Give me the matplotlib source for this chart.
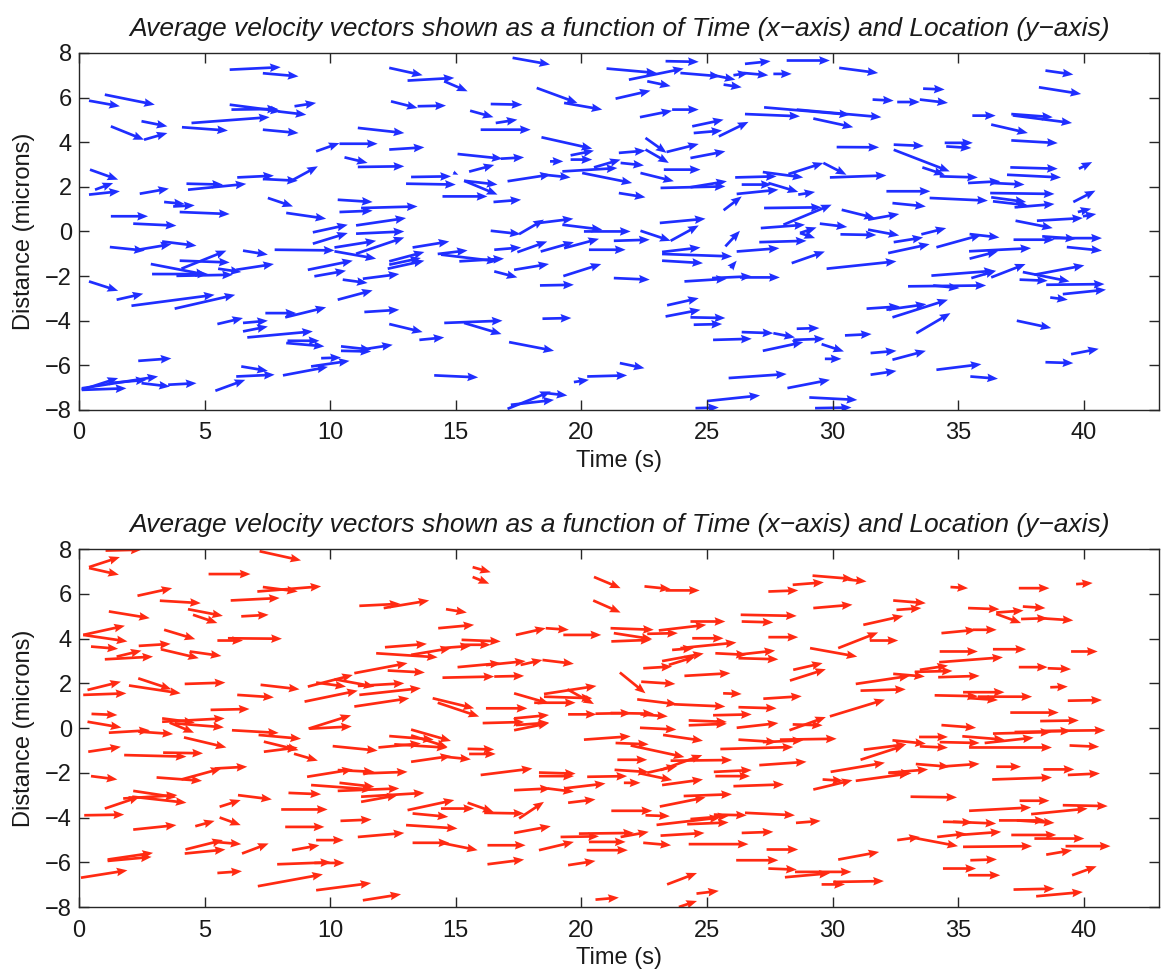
import numpy as np
import matplotlib

matplotlib.use("Agg")
import matplotlib.pyplot as plt

# each row: tail x, tail y, tip x, tip y (Time in s, Distance in microns)
blue_vectors = np.array([
    (6.0, 7.25, 8.03, 7.36), (7.32, 7.09, 8.74, 6.95), (1.03, 6.13, 3.02, 5.68),
    (0.40, 5.86, 1.63, 5.61), (6.0, 5.68, 8.05, 5.38), (6.07, 5.46, 7.92, 5.49),
    (7.92, 5.38, 9.05, 5.23), (8.58, 5.61, 9.44, 5.76), (4.48, 4.86, 7.59, 5.12),
    (2.49, 4.94, 3.52, 4.71), (1.27, 4.71, 2.59, 4.11), (2.59, 4.11, 3.52, 4.41),
    (4.10, 4.67, 5.93, 4.52), (7.32, 4.56, 8.74, 4.41), (0.44, 2.77, 1.56, 2.32),
    (0.64, 1.87, 1.36, 2.17), (0.40, 1.65, 1.63, 1.80), (2.42, 1.69, 3.58, 1.92),
    (4.28, 2.14, 5.73, 2.10), (4.34, 1.87, 6.66, 2.13), (6.30, 2.42, 7.76, 2.50),
    (7.32, 2.35, 8.71, 2.27), (3.39, 1.32, 4.21, 1.23), (3.75, 1.12, 4.61, 1.17),
    (4.01, 0.87, 6.00, 0.78), (7.52, 1.50, 8.52, 1.12), (8.25, 0.83, 9.84, 0.57),
    (1.27, 0.68, 2.75, 0.68), (2.16, 0.35, 3.88, 0.26), (1.23, -0.70, 2.62, -0.86),
    (2.36, -0.82, 3.68, -0.57), (3.31, -0.45, 4.68, -0.64), (6.53, -0.86, 7.52, -1.04),
    (7.79, -0.82, 10.17, -0.85), (4.01, -1.31, 6.00, -1.39), (2.86, -1.46, 5.07, -1.94),
    (4.08, -1.67, 5.87, -0.86), (2.91, -1.91, 5.14, -1.91), (3.88, -1.99, 6.13, -1.94),
    (5.54, -1.67, 6.46, -1.82), (6.26, -1.72, 7.76, -1.46), (0.40, -2.24, 1.56, -2.66),
    (1.50, -3.06, 2.56, -2.79), (2.09, -3.33, 5.40, -2.84), (3.81, -3.46, 6.22, -2.84),
    (5.51, -4.15, 6.53, -3.88), (6.53, -4.10, 7.52, -4.00), (6.53, -4.48, 7.52, -4.26),
    (7.42, -3.66, 8.65, -3.66), (6.70, -4.75, 9.31, -4.48), (8.25, -5.00, 9.77, -5.15),
    (8.30, -4.90, 9.57, -4.90), (2.36, -5.80, 3.68, -5.69), (6.46, -6.05, 7.52, -6.25),
    (6.26, -6.50, 7.79, -6.42), (8.12, -6.45, 9.91, -6.07), (0.11, -7.10, 1.56, -6.57),
    (0.11, -7.10, 1.89, -7.03), (0.11, -7.03, 3.15, -6.50), (1.17, -6.80, 2.69, -6.65),
    (2.49, -6.80, 3.62, -6.95), (3.55, -6.87, 4.68, -6.80), (5.43, -7.14, 6.62, -6.65),
    (8.50, 2.30, 9.51, 2.92), (8.21, -3.85, 9.84, -3.40), (9.24, -6.05, 10.77, -5.80),
    (12.35, 7.33, 13.68, 7.00), (13.08, 6.76, 14.94, 6.88), (14.54, 6.73, 15.47, 6.28),
    (12.42, 5.83, 13.48, 5.53), (13.48, 5.61, 14.61, 5.64), (15.57, 5.41, 16.50, 5.12),
    (16.39, 5.71, 17.65, 5.68), (16.59, 4.86, 17.45, 5.01), (15.99, 4.56, 17.98, 4.56),
    (11.10, 4.64, 12.95, 4.41), (9.44, 3.59, 10.37, 3.96), (10.37, 3.93, 11.89, 3.93),
    (12.35, 3.67, 13.75, 3.77), (10.57, 3.32, 11.49, 3.07), (11.10, 2.89, 12.95, 2.92),
    (15.07, 3.47, 16.86, 3.26), (16.79, 3.26, 17.72, 3.32), (15.53, 2.68, 16.53, 2.98),
    (13.22, 2.44, 14.81, 2.47), (14.90, 2.64, 15.10, 2.54), (13.02, 2.14, 15.00, 2.10),
    (15.33, 2.27, 16.66, 2.10), (15.33, 2.27, 16.66, 1.65), (17.06, 2.25, 18.78, 2.55),
    (14.47, 1.57, 16.26, 1.57), (16.50, 1.32, 17.60, 1.42), (10.30, 1.42, 11.69, 1.32),
    (10.37, 0.87, 11.69, 0.93), (11.23, 1.05, 13.48, 1.12), (9.31, -0.04, 10.70, 0.30),
    (9.31, -0.55, 10.70, -0.07), (11.03, 0.27, 13.02, 0.60), (11.03, -0.10, 12.95, 0.00),
    (10.17, -0.72, 11.83, -0.42), (10.17, -0.89, 11.83, -1.22), (11.03, -1.00, 12.95, -0.27),
    (13.28, -0.72, 14.74, -0.45), (12.35, -1.34, 13.75, -0.92), (12.29, -1.67, 13.75, -1.31),
    (12.35, -1.49, 13.61, -1.19), (14.28, -1.01, 15.47, -0.85), (14.41, -1.04, 16.66, -1.34),
    (15.14, -1.34, 16.92, -1.22), (16.53, -0.82, 17.60, -0.72), (16.53, -1.79, 17.45, -2.06),
    (9.11, -1.72, 10.90, -1.31), (9.37, -2.01, 10.63, -1.76), (10.50, -2.16, 11.49, -2.31),
    (11.30, -2.12, 12.75, -1.91), (10.30, -3.06, 11.69, -2.64), (11.36, -3.61, 12.75, -3.51),
    (12.35, -4.15, 13.68, -4.51), (13.55, -4.86, 14.54, -4.75), (14.54, -4.10, 16.86, -4.00),
    (15.33, -4.10, 16.82, -4.60), (17.12, -4.96, 18.91, -5.35), (10.43, -5.15, 11.63, -5.30),
    (10.43, -5.35, 11.63, -5.38), (11.23, -5.30, 12.49, -5.08), (9.64, -5.68, 10.43, -5.65),
    (14.14, -6.45, 15.89, -6.54), (17.06, -7.95, 18.78, -7.17), (17.19, -7.77, 18.91, -7.55),
    (18.64, -7.25, 19.44, -7.35), (17.26, 7.78, 18.75, 7.48), (21.00, 7.30, 23.00, 7.10),
    (21.89, 6.80, 24.07, 7.30), (22.62, 6.73, 23.55, 6.51), (23.35, 7.63, 24.67, 7.60),
    (23.94, 7.10, 25.53, 6.95), (25.13, 7.03, 26.13, 6.80), (25.66, 6.58, 26.38, 6.46),
    (18.22, 6.43, 19.84, 5.76), (19.31, 5.76, 20.83, 5.46), (21.36, 5.95, 22.75, 6.31),
    (22.33, 5.12, 23.61, 5.41), (23.61, 5.46, 24.67, 5.46), (24.41, 4.71, 25.66, 5.01),
    (24.47, 4.41, 25.60, 4.52), (25.47, 4.26, 26.65, 4.91), (18.41, 4.22, 20.43, 3.71),
    (19.57, 3.41, 20.50, 3.62), (19.57, 3.22, 20.43, 3.22), (18.75, 3.14, 19.28, 3.14),
    (18.51, 2.54, 19.57, 2.42), (19.24, 2.69, 21.43, 2.84), (20.03, 2.62, 22.02, 2.17),
    (20.50, 2.87, 21.56, 3.22), (21.49, 3.52, 22.55, 3.62), (21.56, 3.07, 22.49, 2.96),
    (22.55, 4.19, 23.39, 3.52), (22.55, 3.67, 23.48, 3.07), (23.39, 3.56, 24.67, 3.92),
    (24.34, 3.29, 25.73, 3.59), (23.28, 2.77, 24.74, 2.77), (22.35, 2.62, 23.68, 2.25),
    (23.15, 1.95, 25.73, 2.02), (24.34, 1.98, 25.79, 2.25), (21.49, 1.72, 22.55, 1.53),
    (25.66, 0.95, 26.38, 1.57), (16.39, 0.03, 17.58, -0.12), (17.52, -0.12, 18.51, 0.53),
    (18.31, 0.38, 19.68, 0.57), (19.24, 0.30, 20.83, 0.08), (20.10, 0.00, 21.96, 0.00),
    (22.35, 0.03, 23.55, -0.42), (23.55, -0.42, 24.67, 0.27), (23.12, 0.38, 24.94, 0.57),
    (21.29, -0.42, 22.72, -0.37), (17.45, -0.93, 18.64, -0.45), (18.38, -0.90, 19.70, -0.48),
    (19.31, -0.75, 20.70, -0.33), (20.30, -0.82, 21.76, -0.82), (17.32, -1.72, 18.71, -1.46),
    (19.28, -2.00, 20.79, -1.46), (18.35, -2.42, 19.70, -2.39), (21.29, -2.09, 22.72, -2.16),
    (23.21, -0.92, 24.74, -0.72), (23.21, -1.01, 26.00, -1.12), (23.21, -1.31, 24.84, -1.42),
    (24.10, -2.24, 25.79, -2.12), (25.20, -2.09, 26.78, -2.01), (26.31, -2.06, 27.90, -2.06),
    (25.73, -0.67, 26.31, 0.03), (25.93, -1.64, 26.18, -1.31), (23.41, -3.31, 24.67, -2.99),
    (23.35, -3.81, 24.74, -3.51), (24.34, -3.85, 25.73, -3.88), (24.47, -4.18, 25.60, -4.15),
    (18.45, -3.91, 19.60, -3.88), (25.24, -4.86, 26.78, -4.81), (21.53, -5.90, 22.51, -6.13),
    (19.70, -6.75, 20.30, -6.65), (20.23, -6.50, 21.82, -6.45), (25.86, -6.57, 28.17, -6.39),
    (24.54, -7.92, 25.47, -7.89), (25.00, -7.60, 27.11, -7.35), (26.51, 7.51, 27.53, 7.63),
    (28.17, 7.66, 29.89, 7.66), (30.26, 7.33, 31.81, 7.10), (26.05, 7.00, 26.65, 7.10),
    (26.45, 7.10, 27.44, 7.00), (27.64, 7.06, 28.37, 7.06), (33.60, 6.40, 34.46, 6.36),
    (31.59, 5.91, 32.43, 5.86), (32.57, 5.80, 33.47, 5.80), (33.47, 5.91, 34.59, 5.76),
    (27.27, 5.56, 30.69, 5.23), (26.51, 5.26, 28.70, 5.16), (28.57, 5.46, 31.94, 5.12),
    (29.23, 5.06, 30.82, 4.67), (30.16, 3.78, 31.85, 3.77), (32.43, 3.89, 33.63, 3.83),
    (32.43, 3.66, 34.66, 2.69), (33.57, 2.87, 34.46, 2.54), (34.46, 3.97, 35.58, 3.97),
    (34.52, 3.81, 35.52, 3.74), (26.12, 2.42, 27.77, 2.47), (27.22, 2.66, 28.83, 2.42),
    (28.24, 2.57, 29.63, 3.07), (29.63, 3.07, 30.55, 2.54), (29.89, 2.42, 32.14, 2.51),
    (34.26, 2.47, 35.78, 2.42), (26.38, 2.10, 27.57, 2.10), (26.18, 1.68, 27.84, 1.87),
    (27.44, 2.17, 28.63, 1.77), (28.63, 1.65, 29.30, 1.77), (32.14, 1.80, 33.89, 1.80),
    (33.86, 1.50, 36.18, 1.38), (27.27, 1.05, 29.56, 1.08), (28.04, 0.30, 29.96, 1.20),
    (30.36, 0.97, 31.68, 0.60), (31.41, 0.53, 32.65, 0.78), (32.38, 1.27, 33.71, 1.12),
    (27.14, 0.15, 28.90, 0.30), (28.70, -0.07, 29.36, 0.18), (28.70, -0.07, 29.30, -0.30),
    (29.49, 0.35, 30.58, 0.20), (30.31, -0.13, 31.74, -0.16), (31.41, 0.08, 32.65, -0.18),
    (27.08, -0.48, 28.96, -0.42), (26.18, -0.90, 27.88, -0.75), (28.37, -1.42, 29.69, -0.90),
    (29.76, -1.67, 32.54, -1.34), (32.21, -0.97, 33.86, -0.57), (32.43, -0.48, 33.60, -0.27),
    (33.53, -0.13, 34.52, 0.15), (34.13, -0.71, 35.92, -0.15), (33.93, -1.98, 36.45, -1.76),
    (33.00, -2.46, 36.11, -2.42), (34.00, -2.42, 35.05, -2.54), (31.35, -3.46, 32.67, -3.36),
    (32.14, -3.51, 33.73, -3.26), (32.38, -3.85, 34.59, -3.06), (33.33, -4.56, 34.69, -3.66),
    (26.38, -4.51, 27.64, -4.56), (27.64, -4.56, 28.50, -4.75), (28.57, -4.36, 29.47, -4.33),
    (27.22, -5.35, 28.83, -4.96), (28.43, -4.86, 29.69, -4.81), (29.56, -5.05, 30.45, -5.38),
    (29.69, -5.71, 30.35, -5.71), (30.49, -4.66, 31.55, -4.60), (31.51, -5.45, 32.54, -5.35),
    (32.38, -5.75, 33.71, -5.35), (31.51, -6.42, 32.54, -6.25), (28.20, -7.02, 29.89, -6.65),
    (29.07, -7.44, 30.98, -7.55), (29.30, -7.92, 30.75, -7.89), (34.13, -6.20, 35.92, -5.95),
    (38.47, 7.21, 39.58, 7.03), (38.21, 6.46, 39.89, 6.16), (35.56, 5.19, 36.49, 5.19),
    (37.11, 5.26, 38.76, 5.12), (37.17, 5.20, 39.53, 4.86), (36.31, 4.79, 37.77, 4.41),
    (37.11, 4.08, 38.96, 3.96), (39.80, 2.81, 40.33, 3.11), (37.07, 2.87, 38.96, 2.81),
    (36.94, 2.54, 39.09, 2.42), (35.39, 2.17, 36.67, 2.25), (36.38, 2.17, 37.64, 2.10),
    (36.27, 1.72, 38.83, 1.68), (39.58, 1.32, 40.46, 1.83), (36.31, 1.53, 37.70, 1.32),
    (36.38, 1.35, 37.77, 1.17), (37.24, 1.08, 38.83, 1.23), (39.76, 0.87, 40.29, 1.02),
    (39.96, 0.68, 40.49, 0.78), (37.28, 0.48, 38.76, 0.15), (38.13, 0.48, 39.96, 0.60),
    (35.45, -0.12, 36.64, -0.27), (37.20, -0.37, 38.83, -0.37), (38.34, -0.22, 39.69, -0.33),
    (38.76, -0.30, 40.72, -0.30), (39.32, -0.70, 40.72, -0.86), (35.43, -0.89, 37.90, -0.75),
    (35.45, -1.22, 36.58, -0.89), (35.52, -2.09, 36.51, -1.76), (36.31, -2.06, 37.68, -1.46),
    (37.44, -2.16, 38.56, -2.21), (37.57, -1.82, 39.43, -2.24), (38.03, -1.94, 40.02, -1.52),
    (38.50, -2.39, 40.82, -2.36), (39.16, -2.81, 40.88, -2.61), (38.66, -2.96, 39.36, -3.06),
    (37.33, -4.00, 38.70, -4.33), (39.49, -5.50, 40.59, -5.26), (38.47, -5.86, 39.58, -5.90),
    (35.48, -6.50, 36.58, -6.60),
])

red_vectors = np.array([
    (1.06, 7.93, 2.49, 7.97), (0.40, 7.19, 1.63, 7.64), (0.40, 7.15, 1.59, 6.85),
    (5.16, 6.88, 6.83, 6.88), (7.19, 7.90, 8.84, 7.49), (2.33, 5.91, 3.71, 6.25),
    (3.22, 5.69, 4.85, 5.58), (1.19, 5.21, 2.82, 4.91), (4.34, 5.31, 5.73, 5.01),
    (4.54, 5.06, 5.51, 4.69), (6.04, 5.70, 7.99, 5.81), (6.46, 4.99, 7.55, 5.06),
    (7.32, 6.30, 8.71, 6.10), (7.10, 6.10, 9.64, 6.33), (0.17, 4.16, 1.83, 4.57),
    (0.17, 4.16, 1.93, 3.87), (0.48, 3.64, 1.56, 3.54), (1.03, 3.07, 2.95, 3.19),
    (1.50, 3.19, 2.49, 3.46), (2.38, 3.67, 3.65, 3.76), (3.39, 4.39, 4.63, 3.97),
    (3.26, 3.52, 4.77, 3.12), (4.41, 3.42, 5.67, 3.22), (5.51, 3.91, 6.53, 3.91),
    (5.93, 4.01, 8.08, 3.99), (0.34, 1.70, 1.67, 2.07), (0.17, 1.48, 1.89, 1.55),
    (2.36, 2.22, 3.68, 1.73), (1.99, 1.90, 4.05, 1.55), (4.21, 1.97, 5.83, 2.03),
    (7.23, 1.93, 8.78, 1.73), (6.30, 1.48, 7.76, 1.37), (5.24, 0.81, 6.79, 0.85),
    (0.50, 0.63, 1.53, 0.58), (0.34, 0.28, 1.69, 0.02), (1.19, -0.21, 2.82, -0.10),
    (2.36, -0.16, 3.75, -0.27), (3.31, 0.43, 4.61, 0.24), (3.31, 0.28, 5.80, 0.43),
    (3.61, 0.24, 4.58, -0.21), (3.81, 0.21, 5.77, 0.03), (6.09, -0.10, 7.95, -0.22),
    (7.15, -0.31, 8.84, -0.48), (4.18, -0.42, 5.87, -0.87), (0.37, -1.06, 1.67, -0.84),
    (1.80, -1.21, 4.28, -1.28), (3.35, -1.10, 4.94, -1.13), (7.36, -0.61, 8.74, -0.99),
    (7.36, -1.06, 8.71, -0.87), (8.56, -1.15, 9.51, -1.46), (0.48, -2.15, 1.53, -2.30),
    (3.09, -2.21, 4.90, -2.36), (4.08, -2.30, 5.67, -1.81), (5.40, -1.81, 6.70, -1.73),
    (1.03, -3.60, 2.42, -3.07), (1.76, -3.15, 3.92, -3.00), (2.16, -2.81, 3.88, -3.10),
    (2.12, -3.07, 4.28, -3.34), (6.33, -3.00, 7.68, -3.19), (8.34, -2.90, 9.64, -2.96),
    (0.21, -3.90, 1.80, -3.87), (5.60, -3.52, 6.44, -3.22), (8.05, -3.64, 9.90, -3.64),
    (2.16, -4.54, 3.88, -4.34), (4.63, -4.39, 5.40, -4.15), (5.60, -4.00, 6.44, -4.34),
    (8.21, -4.42, 9.77, -4.42), (1.14, -5.88, 2.95, -5.58), (1.14, -5.94, 2.89, -5.76),
    (4.24, -5.43, 5.73, -5.01), (4.21, -5.61, 5.83, -5.43), (5.40, -5.09, 6.46, -5.19),
    (6.49, -5.61, 7.55, -5.16), (8.48, -5.46, 9.57, -5.24), (0.08, -6.69, 1.93, -6.36),
    (5.51, -6.48, 6.49, -6.40), (7.89, -6.09, 10.04, -6.00), (9.37, -6.03, 10.57, -6.03),
    (7.12, -7.07, 9.71, -6.54), (15.67, 7.19, 16.39, 6.96), (15.67, 6.75, 16.33, 6.45),
    (11.16, 5.46, 12.79, 5.55), (12.13, 5.36, 13.94, 5.70), (14.61, 5.31, 15.44, 5.16),
    (14.30, 4.46, 15.73, 4.61), (15.23, 3.94, 16.79, 3.87), (12.18, 3.61, 13.85, 3.76),
    (11.83, 3.34, 14.28, 3.16), (13.22, 3.27, 14.81, 3.57), (14.41, 3.57, 15.60, 3.67),
    (15.20, 3.72, 16.39, 3.72), (15.07, 2.72, 16.79, 2.90), (16.20, 2.81, 17.78, 2.99),
    (10.96, 2.45, 13.08, 2.90), (12.29, 2.57, 13.77, 2.48), (14.47, 2.25, 16.53, 2.30),
    (16.53, 2.30, 17.72, 2.33), (9.11, 1.85, 10.90, 2.37), (9.44, 2.03, 10.63, 1.85),
    (10.17, 2.18, 11.76, 1.85), (11.10, 1.88, 12.95, 2.00), (8.98, 1.18, 11.10, 1.67),
    (11.16, 1.48, 13.61, 1.78), (10.96, 0.96, 13.15, 1.33), (14.08, 1.33, 15.73, 0.88),
    (14.28, 1.13, 15.93, 0.51), (16.20, 0.88, 17.85, 0.88), (16.07, 0.22, 17.72, 0.27),
    (9.14, -0.03, 10.83, 0.57), (9.18, -0.03, 10.86, 0.07), (10.10, -0.81, 11.89, -1.01),
    (11.92, -0.87, 13.61, -0.69), (12.35, -0.36, 14.12, -0.52), (13.22, -0.07, 14.81, -0.58),
    (13.22, -0.33, 14.67, -0.85), (12.55, -0.73, 14.67, -0.88), (13.22, -1.51, 14.81, -1.25),
    (14.54, -1.28, 15.60, -1.40), (15.47, -0.93, 16.53, -0.96), (15.53, -1.16, 16.59, -1.16),
    (15.99, -2.10, 18.05, -1.81), (9.08, -2.18, 10.90, -1.85), (10.30, -1.88, 11.76, -1.96),
    (11.30, -2.03, 13.08, -1.96), (9.24, -2.55, 11.69, -2.75), (10.37, -2.45, 11.76, -2.63),
    (10.30, -2.81, 12.75, -2.70), (11.23, -3.30, 12.69, -3.00), (11.23, -3.07, 13.75, -2.90),
    (13.08, -3.67, 14.94, -3.22), (13.28, -3.82, 14.70, -3.97), (14.41, -3.60, 15.73, -3.60),
    (15.47, -3.34, 16.50, -3.75), (16.13, -3.79, 17.72, -3.82), (10.41, -4.15, 11.65, -4.09),
    (13.02, -4.34, 15.07, -4.49), (11.10, -4.87, 12.95, -4.69), (13.28, -5.13, 14.74, -5.13),
    (14.41, -5.13, 15.87, -5.46), (9.44, -5.01, 10.54, -5.01), (16.26, -5.24, 17.78, -5.24),
    (16.26, -6.09, 17.72, -5.88), (9.44, -7.25, 11.63, -6.93), (11.30, -7.70, 12.82, -7.43),
    (20.50, 6.75, 21.56, 6.25), (22.51, 6.33, 23.55, 6.21), (23.35, 6.15, 24.71, 6.15),
    (20.47, 5.70, 21.56, 5.16), (17.39, 4.16, 18.58, 4.46), (18.58, 4.46, 19.50, 4.39),
    (19.28, 4.16, 20.79, 4.16), (21.16, 4.46, 22.88, 4.39), (21.29, 4.24, 22.82, 3.97),
    (21.19, 3.87, 22.78, 3.94), (22.62, 4.21, 23.84, 4.24), (23.08, 4.36, 24.97, 4.61),
    (24.34, 4.76, 25.73, 4.76), (24.41, 4.01, 25.66, 4.01), (23.61, 3.49, 24.47, 3.57),
    (23.94, 3.57, 26.17, 3.82), (25.33, 3.34, 26.58, 3.27), (17.58, 2.82, 18.45, 3.04),
    (18.45, 3.04, 19.70, 2.87), (23.21, 2.99, 24.87, 3.33), (22.46, 2.67, 23.61, 2.75),
    (23.48, 2.82, 24.54, 3.19), (24.10, 2.33, 25.93, 2.45), (21.53, 2.48, 22.55, 1.55),
    (22.38, 2.07, 23.74, 1.97), (17.32, 1.55, 18.71, 1.10), (18.51, 1.52, 20.60, 1.88),
    (18.51, 1.40, 20.43, 1.33), (19.44, 1.73, 20.50, 1.07), (18.12, 1.13, 19.77, 1.13),
    (22.22, 1.28, 23.81, 1.06), (23.68, 1.06, 25.73, 0.96), (25.64, 1.55, 26.38, 1.52),
    (17.32, 0.43, 18.71, 0.58), (17.39, 0.13, 18.71, 0.24), (17.32, -0.10, 18.71, 0.22),
    (19.47, 0.61, 20.60, 0.61), (20.56, 0.64, 21.98, 0.67), (21.16, 0.67, 22.88, 0.64),
    (22.35, 0.61, 23.44, 0.52), (22.33, 0.01, 23.78, -0.07), (24.27, 0.34, 25.79, 0.27),
    (24.27, 0.12, 25.79, 0.19), (25.24, 0.57, 26.78, 0.61), (20.10, -0.52, 21.96, -0.37),
    (21.36, -0.67, 22.68, -0.73), (21.96, -0.78, 24.10, -1.30), (23.25, -0.31, 24.84, -0.57),
    (25.53, -0.94, 28.43, -0.85), (21.43, -1.42, 22.62, -1.42), (21.32, -1.87, 22.68, -1.97),
    (22.35, -2.03, 23.61, -2.33), (22.62, -2.00, 23.81, -1.70), (23.15, -1.88, 24.81, -1.21),
    (23.55, -1.46, 26.00, -1.43), (23.21, -2.55, 24.84, -2.30), (25.27, -1.96, 26.78, -1.88),
    (25.33, -2.15, 26.71, -2.15), (18.31, -1.99, 19.77, -2.04), (18.31, -2.15, 19.70, -2.15),
    (20.23, -2.18, 21.82, -2.15), (21.69, -2.45, 22.35, -2.45), (17.32, -2.78, 18.78, -2.70),
    (18.64, -2.70, 19.70, -2.85), (19.31, -2.70, 20.96, -2.48), (19.47, -3.34, 20.56, -3.19),
    (24.07, -3.04, 25.99, -2.96), (23.12, -3.51, 24.94, -3.10), (17.52, -4.04, 18.51, -3.30),
    (21.19, -3.70, 22.82, -3.70), (22.55, -3.90, 23.52, -3.94), (22.99, -4.33, 25.53, -4.00),
    (24.21, -4.30, 25.86, -4.22), (24.34, -4.07, 25.86, -3.93), (25.27, -3.87, 26.58, -3.90),
    (17.32, -4.69, 18.78, -4.39), (18.31, -5.46, 19.70, -5.09), (19.17, -4.87, 20.70, -4.84),
    (19.90, -4.72, 22.09, -4.69), (20.30, -5.09, 21.76, -5.09), (20.21, -5.46, 21.85, -5.46),
    (21.56, -4.87, 22.68, -4.64), (22.46, -5.13, 23.57, -5.24), (23.15, -4.81, 24.90, -4.69),
    (24.27, -5.19, 26.65, -5.19), (19.47, -6.13, 20.56, -5.94), (23.41, -6.99, 24.60, -6.48),
    (24.58, -7.40, 25.47, -7.28), (20.56, -7.67, 21.49, -7.58), (23.88, -8.00, 24.60, -7.73),
    (29.20, 6.81, 30.82, 6.66), (30.62, 6.63, 31.35, 6.55), (28.41, 6.40, 29.65, 6.51),
    (27.44, 6.10, 28.63, 6.15), (34.69, 6.30, 35.39, 6.25), (29.23, 5.36, 30.79, 5.51),
    (32.41, 5.70, 33.71, 5.58), (32.54, 5.28, 33.53, 5.36), (31.22, 4.61, 32.81, 5.01),
    (26.34, 5.06, 28.57, 5.01), (26.38, 4.76, 27.64, 4.72), (27.44, 4.06, 28.63, 4.06),
    (30.22, 3.57, 31.81, 4.27), (31.48, 3.91, 32.61, 3.91), (29.10, 3.57, 30.98, 3.19),
    (34.33, 4.24, 35.71, 4.39), (26.18, 3.27, 27.71, 3.46), (26.25, 3.12, 27.84, 3.07),
    (28.43, 2.60, 29.60, 2.90), (28.30, 2.12, 29.73, 2.63), (34.26, 3.42, 35.78, 3.42),
    (34.24, 2.94, 36.78, 3.16), (30.92, 1.97, 33.07, 2.33), (32.41, 2.42, 33.67, 2.30),
    (33.27, 2.51, 34.77, 2.55), (34.20, 2.27, 35.85, 2.33), (33.47, 2.60, 34.59, 2.79),
    (31.11, 1.67, 32.91, 1.73), (27.24, 1.31, 28.77, 1.42), (29.89, 0.52, 32.08, 1.27),
    (34.06, 1.46, 35.78, 1.42), (26.25, 0.93, 27.77, 0.88), (26.18, 0.01, 27.84, 0.22),
    (28.28, -0.10, 29.73, 0.49), (28.41, 0.16, 29.60, 0.12), (26.25, -0.52, 27.77, -0.63),
    (27.22, -0.63, 28.83, -0.55), (27.90, -0.52, 30.16, -0.48), (31.24, -0.97, 32.94, -0.73),
    (31.11, -1.42, 32.87, -0.78), (32.38, -0.55, 33.71, -0.70), (33.44, -0.40, 34.59, -0.40),
    (33.47, -0.82, 34.59, -0.88), (34.33, 0.13, 35.71, 0.01), (34.26, -0.63, 35.85, -0.67),
    (27.08, -1.66, 28.96, -1.51), (29.92, -1.96, 32.08, -1.55), (32.21, -2.00, 33.14, -2.03),
    (32.25, -2.00, 33.80, -1.85), (33.31, -1.61, 34.66, -1.73), (34.26, -1.73, 35.85, -1.60),
    (26.05, -2.60, 28.06, -2.52), (29.23, -2.75, 30.79, -2.33), (29.60, -2.30, 30.42, -2.36),
    (30.92, -2.36, 33.07, -2.03), (33.10, -3.07, 34.95, -3.10), (26.51, -3.79, 28.50, -3.90),
    (28.54, -4.24, 29.52, -4.15), (26.38, -4.69, 27.64, -4.64), (27.37, -5.43, 28.63, -5.43),
    (26.16, -5.91, 27.84, -5.91), (27.44, -6.28, 28.57, -6.33), (28.10, -6.67, 29.89, -6.49),
    (28.50, -6.43, 30.75, -6.43), (29.56, -6.99, 30.49, -6.99), (30.02, -6.88, 32.04, -6.84),
    (30.22, -5.88, 31.85, -5.54), (32.57, -5.01, 33.47, -4.87), (33.20, -4.90, 34.99, -5.28),
    (34.16, -4.87, 35.32, -4.72), (34.39, -4.19, 35.58, -4.22), (34.39, -6.28, 35.71, -6.28),
    (37.41, 6.25, 38.63, 6.25), (39.69, 6.43, 40.35, 6.48), (35.39, 5.36, 36.64, 5.31),
    (36.51, 5.16, 37.60, 5.25), (37.57, 5.43, 38.47, 5.36), (36.51, 5.10, 37.50, 4.69),
    (37.50, 4.87, 38.56, 4.91), (38.23, 4.91, 39.58, 4.81), (35.58, 4.39, 36.53, 4.39),
    (36.38, 3.52, 37.70, 3.52), (39.49, 3.42, 40.55, 3.42), (37.41, 2.72, 38.56, 2.72),
    (38.56, 2.67, 39.49, 2.63), (38.66, 1.82, 39.36, 1.85), (35.19, 1.60, 36.84, 1.60),
    (35.39, 1.34, 36.58, 1.25), (35.78, 1.40, 37.94, 1.40), (39.36, 1.22, 40.72, 1.25),
    (37.07, 0.69, 39.00, 0.69), (38.26, 0.31, 39.80, 0.34), (35.16, -0.37, 36.84, -0.52),
    (36.05, -0.67, 38.00, -0.43), (36.38, -0.25, 38.70, -0.18), (37.24, -0.18, 39.49, -0.13),
    (38.43, -0.13, 40.85, -0.10), (35.43, -0.87, 38.73, -0.87), (39.43, -0.78, 40.61, -0.84),
    (36.51, -1.73, 37.50, -1.73), (38.39, -1.85, 39.62, -1.85), (36.35, -2.30, 38.73, -2.21),
    (39.36, -2.10, 40.64, -2.03), (37.44, -3.25, 38.63, -3.25), (35.43, -3.70, 37.90, -3.55),
    (37.90, -3.85, 40.15, -3.60), (39.16, -3.45, 40.95, -3.49), (34.79, -4.19, 36.51, -4.27),
    (36.62, -4.13, 38.47, -4.13), (37.33, -4.13, 38.83, -4.24), (35.06, -4.78, 36.71, -4.64),
    (37.11, -4.78, 38.90, -4.78), (38.03, -4.94, 40.02, -4.94), (35.19, -5.31, 37.94, -5.28),
    (39.27, -5.28, 41.06, -5.28), (38.50, -5.66, 39.53, -5.46), (35.48, -5.91, 36.54, -5.87),
    (35.39, -6.58, 36.67, -6.58), (39.53, -6.58, 40.51, -6.18), (37.20, -7.22, 38.83, -7.18),
    (38.10, -7.52, 39.96, -7.33),
])

title_text = "Average velocity vectors shown as a function of Time (x\u2212axis) and Location (y\u2212axis)"
x_ticks = [0, 5, 10, 15, 20, 25, 30, 35, 40]
y_ticks = [-8, -6, -4, -2, 0, 2, 4, 6, 8]

plt.rcParams["font.family"] = ["Liberation Sans", "DejaVu Sans"]
axis_grey = "#262626"

fig = plt.figure(figsize=(11.61, 9.71), dpi=100)
ax_top = fig.add_axes([0.068, 0.5778, 0.9305, 0.3677])
ax_bottom = fig.add_axes([0.068, 0.0659, 0.9305, 0.3687])

for ax, vectors, colour in [(ax_top, blue_vectors, "#1f2eff"), (ax_bottom, red_vectors, "#ff2a12")]:
    x0, y0, x1, y1 = vectors.T
    ax.quiver(x0, y0, x1 - x0, y1 - y0, angles="xy", scale_units="xy", scale=1,
              color=colour, width=0.0025, headwidth=3.2, headlength=4.0,
              headaxislength=3.6)
    ax.set_xlim(0, 43)
    ax.set_ylim(-8, 8)
    ax.set_xticks(x_ticks)
    ax.set_yticks(y_ticks)
    ax.tick_params(direction="in", length=7, width=1, colors=axis_grey,
                   labelcolor="#1a1a1a", labelsize=17, top=True, right=True)
    ax.tick_params(axis="x", pad=9)
    ax.tick_params(axis="y", pad=5)
    for spine in ax.spines.values():
        spine.set_color(axis_grey)
        spine.set_linewidth(1)
    ax.set_title(title_text, fontsize=19, style="italic", pad=12, color="#1a1a1a")
    ax.set_xlabel("Time (s)", fontsize=17, labelpad=4, color="#1a1a1a")
    ax.set_ylabel("Distance (microns)", fontsize=17, labelpad=7, color="#1a1a1a")

fig.savefig("out.png", dpi=100)
